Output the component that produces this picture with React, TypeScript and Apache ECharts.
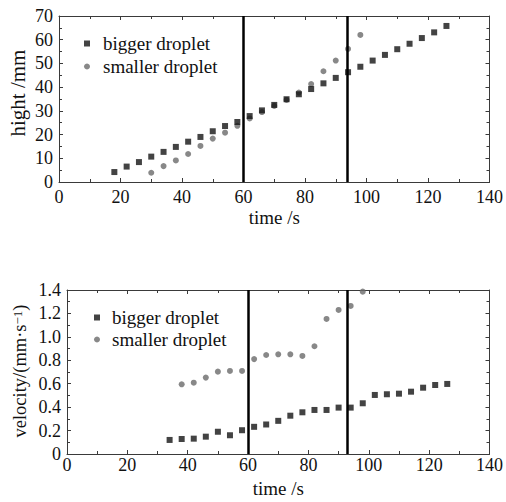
import { useEffect, useRef } from 'react';
import * as echarts from 'echarts';

// ---- data ----
const seriesNames = ['bigger droplet', 'smaller droplet'];

const bigTimeH = [18, 22, 26, 30, 34, 38, 42, 46, 50, 54, 58, 62, 66, 70, 74, 78, 82, 86, 90, 94, 98, 102, 106, 110, 114, 118, 122, 126];
const bigHeight = [4.2, 6.5, 8.4, 10.7, 12.7, 14.8, 17.0, 19.0, 21.4, 23.6, 25.3, 27.8, 30.2, 32.5, 34.9, 37.0, 39.2, 41.6, 43.9, 46.3, 48.6, 51.2, 53.6, 56.0, 58.3, 60.7, 63.1, 65.8];

const smallTimeH = [30, 34, 38, 42, 46, 50, 54, 58, 62, 66, 70, 74, 78, 82, 86, 90, 94, 98];
const smallHeight = [3.9, 6.7, 9.1, 11.8, 15.2, 18.3, 20.8, 23.7, 26.8, 29.5, 32.1, 34.6, 37.7, 41.3, 46.7, 51.2, 56.1, 62.0];

const bigTimeV = [34, 38, 42, 46, 50, 54, 58, 62, 66, 70, 74, 78, 82, 86, 90, 94, 98, 102, 106, 110, 114, 118, 122, 126];
const bigVelocity = [0.12, 0.128, 0.131, 0.148, 0.19, 0.16, 0.203, 0.232, 0.252, 0.283, 0.327, 0.356, 0.376, 0.376, 0.396, 0.396, 0.433, 0.504, 0.51, 0.515, 0.532, 0.566, 0.589, 0.598];

const smallTimeV = [38, 42, 46, 50, 54, 58, 62, 66, 70, 74, 78, 82, 86, 90, 94, 98];
const smallVelocity = [0.595, 0.609, 0.652, 0.703, 0.709, 0.709, 0.81, 0.845, 0.851, 0.851, 0.837, 0.92, 1.153, 1.23, 1.264, 1.386];

const markTimesTop = [60, 93.7];
const markTimesBottom = [60, 93];

const xTickLabels = ['0', '20', '40', '60', '80', '100', '120', '140'];
const hTickLabels = ['0', '10', '20', '30', '40', '50', '60', '70'];
const vTickLabels = ['0', '0.2', '0.4', '0.6', '0.8', '1.0', '1.2', '1.4'];

const yNameTop = 'hight /mm';
const xName = 'time /s';

// ---- styles ----
const FONT = 'Liberation Serif, DejaVu Serif, serif';
const AXIS_COLOR = '#3a3a3a';
const BIG_COLOR = '#141414';
const SMALL_COLOR = '#6a6a6a';

const pairs = (xs: number[], ys: number[]) => xs.map((x, i) => [x, ys[i]]);

function makeXAxis(gridIndex: number, position: 'bottom' | 'top', showLabel: boolean, margin: number, nameGap: number) {
  return {
    type: 'value',
    gridIndex,
    position,
    min: 0,
    max: 140,
    interval: 20,
    name: showLabel ? xName : '',
    nameLocation: 'middle',
    nameGap,
    nameTextStyle: { fontFamily: FONT, fontSize: 19, color: '#111' },
    axisLine: { show: true, onZero: false, lineStyle: { color: AXIS_COLOR, width: 1 } },
    axisTick: { show: true, inside: true, length: 4, lineStyle: { color: AXIS_COLOR } },
    minorTick: { show: true, splitNumber: 2, length: 3, lineStyle: { color: AXIS_COLOR } },
    splitLine: { show: false },
    axisLabel: {
      show: showLabel,
      margin,
      fontFamily: FONT,
      fontSize: 18,
      color: '#111',
      formatter: (v: number) => xTickLabels[Math.round(v / 20)] ?? '',
    },
  };
}

function makeYAxis(gridIndex: number, position: 'left' | 'right', showLabel: boolean, max: number, interval: number, labels: string[]) {
  return {
    type: 'value',
    gridIndex,
    position,
    min: 0,
    max,
    interval,
    axisLine: { show: true, onZero: false, lineStyle: { color: AXIS_COLOR, width: 1 } },
    axisTick: { show: true, inside: true, length: 4, lineStyle: { color: AXIS_COLOR } },
    minorTick: { show: true, splitNumber: 2, length: 3, lineStyle: { color: AXIS_COLOR } },
    splitLine: { show: false },
    axisLabel: {
      show: showLabel,
      margin: 6,
      fontFamily: FONT,
      fontSize: 18,
      color: '#111',
      formatter: (v: number) => labels[Math.round(v / interval)] ?? '',
    },
  };
}

function markLine(times: number[]) {
  return {
    silent: true,
    symbol: 'none',
    label: { show: false },
    lineStyle: { color: '#000', width: 2.5, type: 'solid' },
    data: times.map((t) => ({ xAxis: t })),
  };
}

export default function App() {
  const ref = useRef<HTMLDivElement>(null);

  useEffect(() => {
    if (!ref.current) return;
    const chart = echarts.init(ref.current, null, { renderer: 'svg' });

    const legendBase = {
      orient: 'vertical',
      padding: 0,
      itemWidth: 6,
      itemHeight: 6,
      data: seriesNames,
      selectedMode: false,
    };

    chart.setOption({
      animation: false,
      backgroundColor: '#fff',
      textStyle: { fontFamily: FONT },
      grid: [
        { left: 59, top: 16, width: 435, height: 166 },
        { left: 67, top: 290, width: 426, height: 164 },
      ],
      xAxis: [
        makeXAxis(0, 'bottom', true, 6, 26),
        makeXAxis(0, 'top', false, 6, 26),
        makeXAxis(1, 'bottom', true, 2, 25),
        makeXAxis(1, 'top', false, 2, 25),
      ],
      yAxis: [
        makeYAxis(0, 'left', true, 70, 10, hTickLabels),
        makeYAxis(0, 'right', false, 70, 10, hTickLabels),
        makeYAxis(1, 'left', true, 1.4, 0.2, vTickLabels),
        makeYAxis(1, 'right', false, 1.4, 0.2, vTickLabels),
      ],
      legend: [
        {
          ...legendBase,
          left: 84,
          top: 34,
          itemGap: 4,
          textStyle: { fontFamily: FONT, fontSize: 19, color: '#111', padding: [0, 0, 0, 8] },
        },
        {
          ...legendBase,
          left: 94,
          top: 308,
          itemGap: 3,
          textStyle: { fontFamily: FONT, fontSize: 19, color: '#111', padding: [0, 0, 0, 7] },
        },
      ],
      graphic: [
        {
          type: 'text',
          x: 18,
          y: 93,
          rotation: Math.PI / 2,
          style: {
            text: yNameTop,
            font: `21px ${FONT}`,
            fill: '#111',
            align: 'center',
            verticalAlign: 'middle',
          },
        },
        {
          type: 'text',
          x: 20,
          y: 371,
          rotation: Math.PI / 2,
          style: {
            text: '{a|velocity/(mm·s}{s|−1}{a|)}',
            fill: '#111',
            align: 'center',
            verticalAlign: 'middle',
            rich: {
              a: { fontFamily: FONT, fontSize: 18.5, fill: '#111', color: '#111' },
              s: { fontFamily: FONT, fontSize: 13, fill: '#111', color: '#111', verticalAlign: 'top', lineHeight: 18 },
            },
          },
        },
      ],
      series: [
        {
          name: seriesNames[0],
          type: 'scatter',
          xAxisIndex: 0,
          yAxisIndex: 0,
          symbol: 'rect',
          symbolSize: 6,
          itemStyle: { color: BIG_COLOR },
          data: pairs(bigTimeH, bigHeight),
          markLine: markLine(markTimesTop),
          z: 3,
        },
        {
          name: seriesNames[1],
          type: 'scatter',
          xAxisIndex: 0,
          yAxisIndex: 0,
          symbol: 'circle',
          symbolSize: 6,
          itemStyle: { color: SMALL_COLOR },
          data: pairs(smallTimeH, smallHeight),
          z: 2,
        },
        {
          name: seriesNames[0],
          type: 'scatter',
          xAxisIndex: 2,
          yAxisIndex: 2,
          symbol: 'rect',
          symbolSize: 6,
          itemStyle: { color: BIG_COLOR },
          data: pairs(bigTimeV, bigVelocity),
          markLine: markLine(markTimesBottom),
          z: 3,
        },
        {
          name: seriesNames[1],
          type: 'scatter',
          xAxisIndex: 2,
          yAxisIndex: 2,
          symbol: 'circle',
          symbolSize: 6,
          itemStyle: { color: SMALL_COLOR },
          data: pairs(smallTimeV, smallVelocity),
          z: 2,
        },
      ],
    });

    return () => chart.dispose();
  }, []);

  return (
    <div
      ref={ref}
      style={{ position: 'absolute', left: 0, top: 0, width: 506, height: 502, background: '#fff' }}
    />
  );
}
